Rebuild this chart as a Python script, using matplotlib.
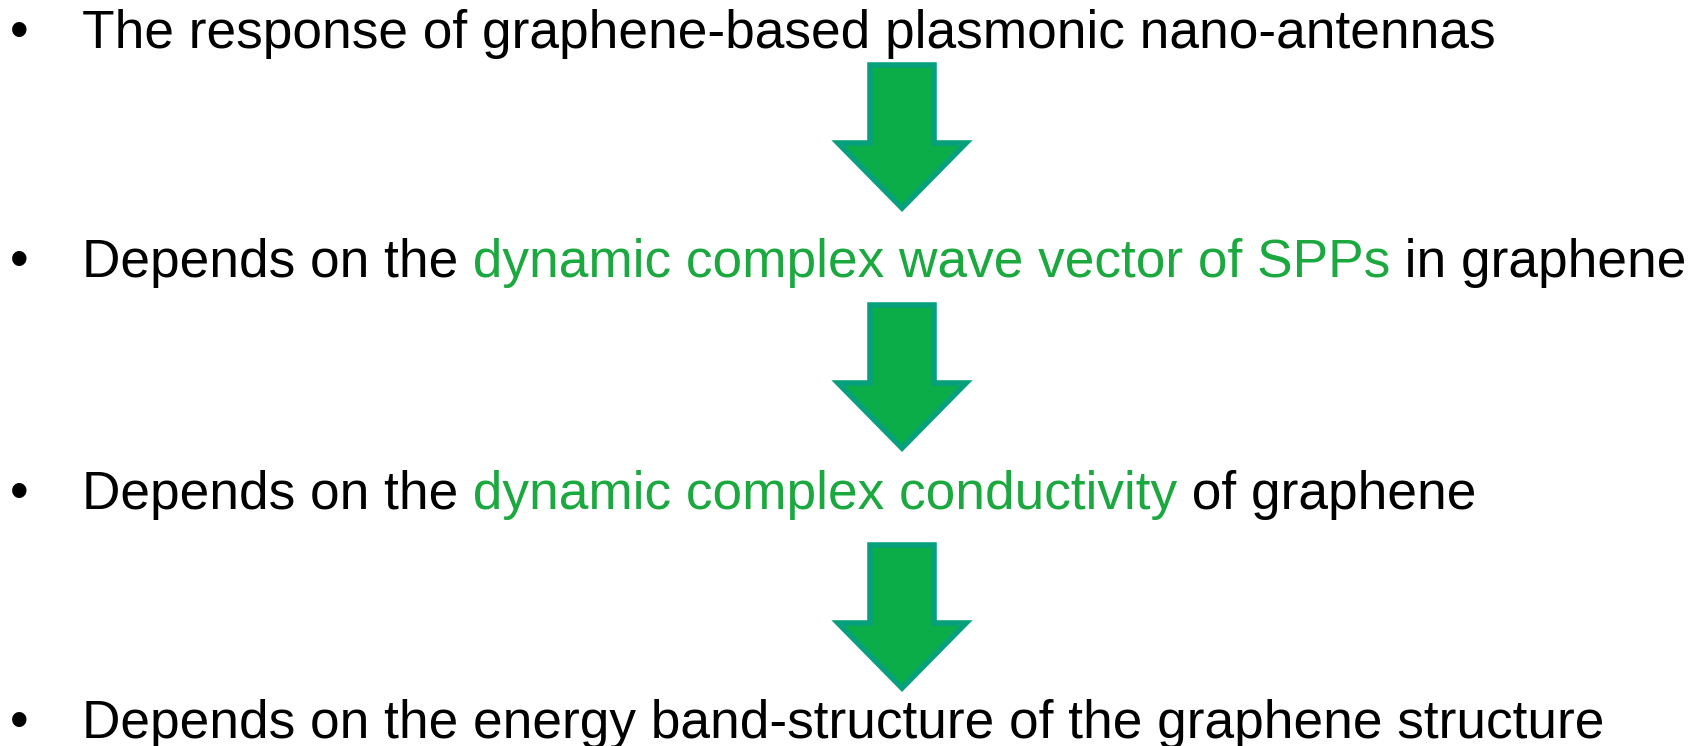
import matplotlib.pyplot as plt
from matplotlib.patches import Polygon

# text lines, split into coloured segments
line1 = ["The response of graphene-based plasmonic nano-antennas"]
line2 = ["Depends on the", " dynamic complex wave vector of SPPs", " in graphene"]
line3 = ["Depends on the", " dynamic complex conductivity", " of graphene"]
line4 = ["Depends on the energy band-structure of the graphene structure"]
colors1 = ["black"]
colors2 = ["black", "green", "black"]
colors3 = ["black", "green", "black"]
colors4 = ["black"]

lines = [line1, line2, line3, line4]
line_colors = [colors1, colors2, colors3, colors4]

# layout (pixels, y measured from top)
W, H = 1702, 746
baselines = [48, 277, 509, 738]
text_x = 82
bullet_x = 19
arrow_tops = [62, 302, 542]
arrow_cx = 902
green_text = "#1BA83F"
arrow_fill = "#0BAD48"
arrow_edge = "#06A07C"

plt.rcParams['font.family'] = ['Liberation Sans', 'DejaVu Sans']

fig = plt.figure(figsize=(W / 100, H / 100), dpi=100)
ax = fig.add_axes([0, 0, 1, 1])
ax.set_xlim(0, W)
ax.set_ylim(H, 0)
ax.axis('off')

# fit font size so the first line spans ~1416 px
renderer = fig.canvas.get_renderer()
probe = ax.text(0, 0, line1[0], fontsize=10)
w10 = probe.get_window_extent(renderer).width
probe.remove()
fs = 10 * 1416 / w10

for segs, cols, y in zip(lines, line_colors, baselines):
    ax.text(bullet_x, y, "\u2022", fontsize=fs, ha='center', va='baseline')
    prev = ax.text(text_x, y, segs[0], fontsize=fs, va='baseline',
                   color=green_text if cols[0] == "green" else cols[0])
    for seg, c in zip(segs[1:], cols[1:]):
        prev = ax.annotate(seg, xy=(1, 0), xycoords=prev, va='bottom',
                           fontsize=fs,
                           color=green_text if c == "green" else c)

# down arrows between lines
shaft_hw, head_hw = 32, 64
head_start, length = 81, 146
for top in arrow_tops:
    t = top + 3
    pts = [(arrow_cx - shaft_hw, t), (arrow_cx + shaft_hw, t),
           (arrow_cx + shaft_hw, t + head_start - 3),
           (arrow_cx + head_hw, t + head_start - 3),
           (arrow_cx, t + length - 3),
           (arrow_cx - head_hw, t + head_start - 3),
           (arrow_cx - shaft_hw, t + head_start - 3)]
    ax.add_patch(Polygon(pts, closed=True, facecolor=arrow_fill,
                         edgecolor=arrow_edge, linewidth=4, joinstyle='miter'))

fig.savefig('out.png', dpi=100)
